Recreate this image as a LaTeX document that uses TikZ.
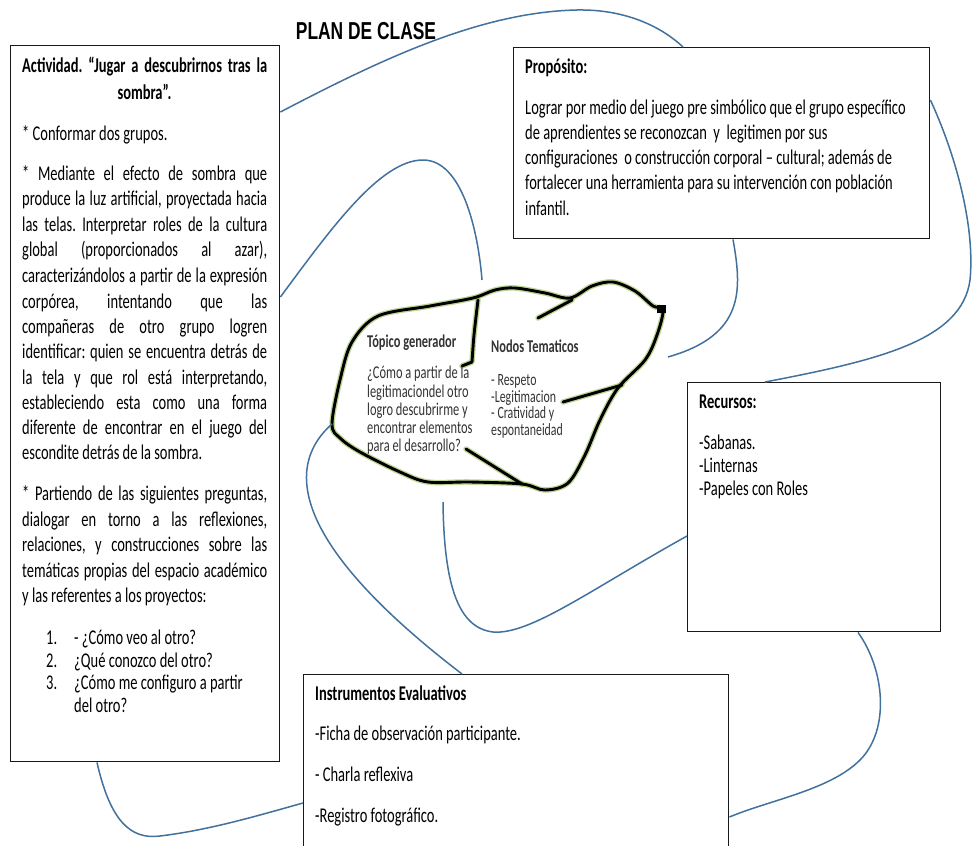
\documentclass[tikz,border=0pt]{standalone}
\usepackage{fontspec}
\setmainfont{Carlito}[FakeStretch=0.69]
\newfontfamily\titlefont{Liberation Sans}[FakeStretch=0.71]
\definecolor{linkblue}{RGB}{65,113,156}
\definecolor{halo}{RGB}{140,180,60}
\frenchspacing
\begin{document}
\begin{tikzpicture}[x=1pt,y=-1pt,
  box/.style={draw=black!90, fill=white, line width=1.4pt, rectangle, anchor=north west, inner sep=0pt},
  txt/.style={anchor=base west, inner sep=0pt, font=\fontsize{21}{25}\selectfont},
  btxt/.style={anchor=base west, inner sep=0pt, font=\fontsize{21}{25}\selectfont\bfseries},
  stxt/.style={anchor=base west, inner sep=0pt, text=black!80, font=\fontsize{18}{18}\selectfont},
  ntxt/.style={anchor=base west, inner sep=0pt, text=black!80, font=\fontsize{17.2}{17}\selectfont},
  sbtxt/.style={anchor=base west, inner sep=0pt, text=black!80, font=\fontsize{18}{18}\selectfont\bfseries},
  link/.style={draw=linkblue, line width=1.5pt},
  blobline/.style={draw=black, line width=2.9pt, line cap=round, line join=round},
  blobhalo/.style={draw=halo, line width=5.5pt, line cap=round, line join=round, opacity=0.55}]

\useasboundingbox (0,0) rectangle (972,846);
\fill[white] (0,0) rectangle (972,846);

% ---------- boxes ----------
\node[box, minimum width=269pt, minimum height=716pt] (act) at (10,45) {};
\node[box, minimum width=416pt, minimum height=191pt] (prop) at (513,47) {};
\node[box, minimum width=253pt, minimum height=249pt] (rec) at (687,382) {};
\begin{scope}
  \clip (0,0) rectangle (972,846);
  \node[box, minimum width=425pt, minimum height=200pt] (inst) at (303,674) {};
\end{scope}

% ---------- title ----------
\node[anchor=base, inner sep=0pt] (title) at (366,39)
  {\titlefont\fontsize{24.5}{26}\selectfont\bfseries PLAN DE CLASE};

% ---------- blob ----------
\coordinate (blobL) at (332,424);
\coordinate (c2end) at (482,280);
\coordinate (c3end) at (668,357);
\coordinate (c5end) at (443,502);
\foreach \st in {blobhalo,blobline}{
  \draw[\st] plot[smooth cycle, tension=0.55] coordinates {
    (332,424) (340,380) (352,342) (378,316) (430,306) (473,298) (495,290)
    (515,288) (545,293) (570,298) (592,286) (613,282) (635,291) (653,306)
    (663,310) (657,335) (645,360) (618,388) (600,420) (585,455) (568,483)
    (545,490) (522,484) (470,482) (428,482) (400,472) (360,452) (340,438)};
  \draw[\st] plot[smooth, tension=0.5] coordinates {(478,300) (474,335) (472,362)} -- (462,366);
  \draw[\st] (538,318) -- (572,300);
  \draw[\st] (563,402) -- (622,385);
  \draw[\st] (466,449) -- (522,484);
}
\fill (657,305) rectangle (666,313);

% blob texts
\node[sbtxt] (tg) at (367,347) {Tópico generador};
\node[stxt] (tg1) at (367,378) {¿Cómo a partir de la};
\node[stxt] (tg2) at (367,397) {legitimaciondel otro};
\node[stxt] (tg3) at (367,415) {logro descubrirme y};
\node[stxt] (tg4) at (367,433) {encontrar elementos};
\node[stxt] (tg5) at (367,451) {para el desarrollo?};
\node[sbtxt] (nt) at (491,352) {Nodos Tematicos};
\node[ntxt] (nt1) at (491,385) {- Respeto};
\node[ntxt] (nt2) at (491,402) {-Legitimacion};
\node[ntxt] (nt3) at (491,418) {- Cratividad y};
\node[ntxt] (nt4) at (491,435) {espontaneidad};

% ---------- connectors ----------
\draw[link] ([yshift=-67pt]act.north east) .. controls (380,60) and (480,12) .. (577,10)
  .. controls (630,9) and (665,30) .. ([xshift=170pt]prop.north west);
\draw[link] ([yshift=-252pt]act.north east) .. controls (330,230) and (380,160) .. (423,160)
  .. controls (462,160) and (478,230) .. (c2end);
\draw[link] ([xshift=220pt]prop.south west) .. controls (742,290) and (745,335) .. (c3end);
\draw[link] ([yshift=-53pt]prop.north east) .. controls (958,160) and (975,230) .. (970,280)
  .. controls (962,340) and (880,360) .. ([xshift=78pt]rec.north west);
\draw[link] ([yshift=-154pt]rec.north west) .. controls (590,590) and (530,635) .. (493,632)
  .. controls (460,628) and (444,590) .. (c5end);
\draw[link] (blobL) .. controls (280,470) and (300,550) .. ([xshift=159pt]inst.north west);
\draw[link] ([xshift=171pt]rec.south west) .. controls (885,670) and (890,730) .. (860,760)
  .. controls (830,790) and (770,800) .. ([yshift=-143pt]inst.north east);
\draw[link] ([xshift=87pt]act.south west) .. controls (110,820) and (130,840) .. (160,836)
  .. controls (210,830) and (260,815) .. ([yshift=-129pt]inst.north west);

% ---------- Actividad box text ----------
\node[btxt] (ah1) at (22,72) {\makebox[245pt][s]{Actividad. “Jugar a descubrirnos tras la}};
\node[btxt, anchor=base] (ah2) at (144.5,99) {sombra”.};
\node[txt] (a0) at (22,140) {* Conformar dos grupos.};
\node[txt] (b1) at (22,180) {\makebox[245pt][s]{* Mediante el efecto de sombra que}};
\node[txt] (b2) at (22,205) {\makebox[245pt][s]{produce la luz artificial, proyectada hacia}};
\node[txt] (b3) at (22,231) {\makebox[245pt][s]{las telas. Interpretar roles de la cultura}};
\node[txt] (b4) at (22,256) {\makebox[245pt][s]{global (proporcionados al azar),}};
\node[txt] (b5) at (22,282) {\makebox[245pt][s]{caracterizándolos a partir de la expresión}};
\node[txt] (b6) at (22,308) {\makebox[245pt][s]{corpórea, intentando que las}};
\node[txt] (b7) at (22,333) {\makebox[245pt][s]{compañeras de otro grupo logren}};
\node[txt] (b8) at (22,358) {\makebox[245pt][s]{identificar: quien se encuentra detrás de}};
\node[txt] (b9) at (22,384) {\makebox[245pt][s]{la tela y que rol está interpretando,}};
\node[txt] (b10) at (22,409) {\makebox[245pt][s]{estableciendo esta como una forma}};
\node[txt] (b11) at (22,434) {\makebox[245pt][s]{diferente de encontrar en el juego del}};
\node[txt] (b12) at (22,459) {escondite detrás de la sombra.};
\node[txt] (c1) at (22,500) {\makebox[245pt][s]{* Partiendo de las siguientes preguntas,}};
\node[txt] (c2) at (22,526) {\makebox[245pt][s]{dialogar en torno a las reflexiones,}};
\node[txt] (c3) at (22,551) {\makebox[245pt][s]{relaciones, y construcciones sobre las}};
\node[txt] (c4) at (22,577) {\makebox[245pt][s]{temáticas propias del espacio académico}};
\node[txt] (c5) at (22,602) {y las referentes a los proyectos:};
\node[txt] (n1) at (46,644) {1.};
\node[txt] (l1) at (74,644) {- ¿Cómo veo al otro?};
\node[txt] (n2) at (46,667) {2.};
\node[txt] (l2) at (74,667) {¿Qué conozco del otro?};
\node[txt] (n3) at (46,689) {3.};
\node[txt] (l3) at (74,689) {¿Cómo me configuro a partir};
\node[txt] (l3b) at (74,712) {del otro?};

% ---------- Propósito ----------
\node[btxt] (ph) at (525,73) {Propósito:};
\node[txt] (p1) at (525,114) {Lograr por medio del juego pre simbólico que el grupo específico};
\node[txt] (p2) at (525,139) {de aprendientes se reconozcan\ \ y\ \ legitimen por sus};
\node[txt] (p3) at (525,164) {configuraciones\ \ o construcción corporal – cultural; además de};
\node[txt] (p4) at (525,189) {fortalecer una herramienta para su intervención con población};
\node[txt] (p5) at (525,215) {infantil.};

% ---------- Recursos ----------
\node[btxt] (rh) at (699,408) {Recursos:};
\node[txt] (r1) at (699,449) {-Sabanas.};
\node[txt] (r2) at (699,472) {-Linternas};
\node[txt] (r3) at (699,495) {-Papeles con Roles};

% ---------- Instrumentos ----------
\node[btxt] (ih) at (315,700) {Instrumentos Evaluativos};
\node[txt] (i1) at (315,740) {-Ficha de observación participante.};
\node[txt] (i2) at (315,781) {- Charla reflexiva};
\node[txt] (i3) at (315,822) {-Registro fotográfico.};
\end{tikzpicture}
\end{document}
